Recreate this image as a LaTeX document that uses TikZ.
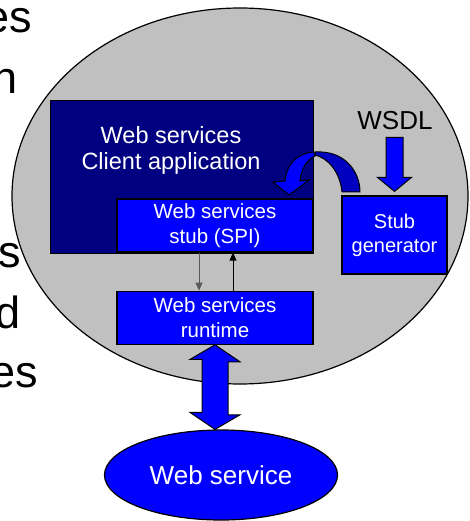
\documentclass[tikz,border=0pt]{standalone}
\usepackage{fontspec}
\setmainfont{Liberation Sans}
\usetikzlibrary{arrows.meta, positioning, shapes.geometric}

\definecolor{hostgrey}{HTML}{C0C0C0}
\definecolor{appnavy}{HTML}{000080}
\definecolor{partblue}{HTML}{0000FF}
\definecolor{foldblue}{HTML}{0000C0}

\tikzset{
  part/.style={draw, rectangle, fill=partblue, text=white, line width=1.2pt, minimum width=196pt, minimum height=53pt, align=center, inner sep=0pt, font=\fontsize{20.5}{25}\selectfont},
  blockarrow/.style={draw, fill=partblue, line width=1pt, line join=miter},
  slidetext/.style={anchor=base east, inner sep=0pt, font=\fontsize{45}{54}\selectfont},
}

\begin{document}
\begin{tikzpicture}[x=1pt, y=-1pt]
    \useasboundingbox (0,0) rectangle (470,521);
    \clip (0,0) rectangle (470,521);
    % slide text behind the picture
    \node[slidetext] (t1) at (32,33) {es};
    \node[slidetext] (t2) at (18,94) {h};
    \node[slidetext] (t3) at (21,267) {s};
    \node[slidetext] (t4) at (21,328) {d};
    \node[slidetext] (t5) at (38,387) {es};

    \node[draw, ellipse, fill=hostgrey, line width=1.2pt, minimum width=456pt, minimum height=376pt] (host) at (240,196) {};
    \node[draw, rectangle, fill=appnavy, line width=1.2pt, minimum width=263pt, minimum height=153pt, anchor=north west] (client) at (50,100) {};
    \node[text=white, align=center, font=\fontsize{23.5}{26}\selectfont] (clientlabel) at (171,150) {Web services\\Client application};
    \node[part] (stub) at (215,225.5) {Web services\\stub (SPI)};
    \node[part, below=38pt of stub] (runtime) {Web services\\runtime};
    \node[part, minimum width=105pt, minimum height=78pt, font=\fontsize{20}{24}\selectfont] (gen) at (394.5,235) {Stub\\generator};
    \node[font=\fontsize{26}{30}\selectfont] (wsdl) at (395,121) {WSDL};
    \node[draw, ellipse, fill=partblue, text=white, line width=1.2pt, minimum width=233pt, minimum height=90pt, font=\fontsize{26}{30}\selectfont] (ws) at (221,475) {Web service};

    % stub <-> runtime calls
    \draw[-{Triangle[length=8pt,width=7pt]}, black!65, line width=0.8pt] ([xshift=-16pt]stub.south) -- ([xshift=-16pt]runtime.north);
    \draw[-{Triangle[length=8pt,width=7pt]}, line width=0.8pt] ([xshift=18pt]runtime.north) -- ([xshift=18pt]stub.south);

    % runtime <-> web service
    \draw[blockarrow] (runtime.south) -- ++(25,17) -- ++(-12,0) -- ++(0,53) -- ++(12,0) -- (runtime.south |- ws.north)
        -- ++(-25,-17) -- ++(12,0) -- ++(0,-53) -- ++(-12,0) -- cycle;

    % WSDL into the generator
    \coordinate (wsdltip) at ([yshift=4pt]gen.north);
    \draw[blockarrow] (wsdltip) -- ++(-17,-14) -- ++(8.5,0) -- ++(0,-40) -- ++(17,0) -- ++(0,40) -- ++(8.5,0) -- cycle;

    % generated stub goes back into the client
    \draw[draw, fill=foldblue, line width=1pt] (315,152) .. controls (345,150) and (360,172) .. (360,192)
        -- (342,192) .. controls (340,172) and (328,158) .. (315,155) -- cycle;
    \draw[blockarrow] (314,152) .. controls (296,153) and (286,166) .. (285,181) -- (273,182) -- (289,195) -- (309,180)
        -- (300,181) .. controls (301,170) and (306,160) .. (315,156) -- cycle;
\end{tikzpicture}
\end{document}
